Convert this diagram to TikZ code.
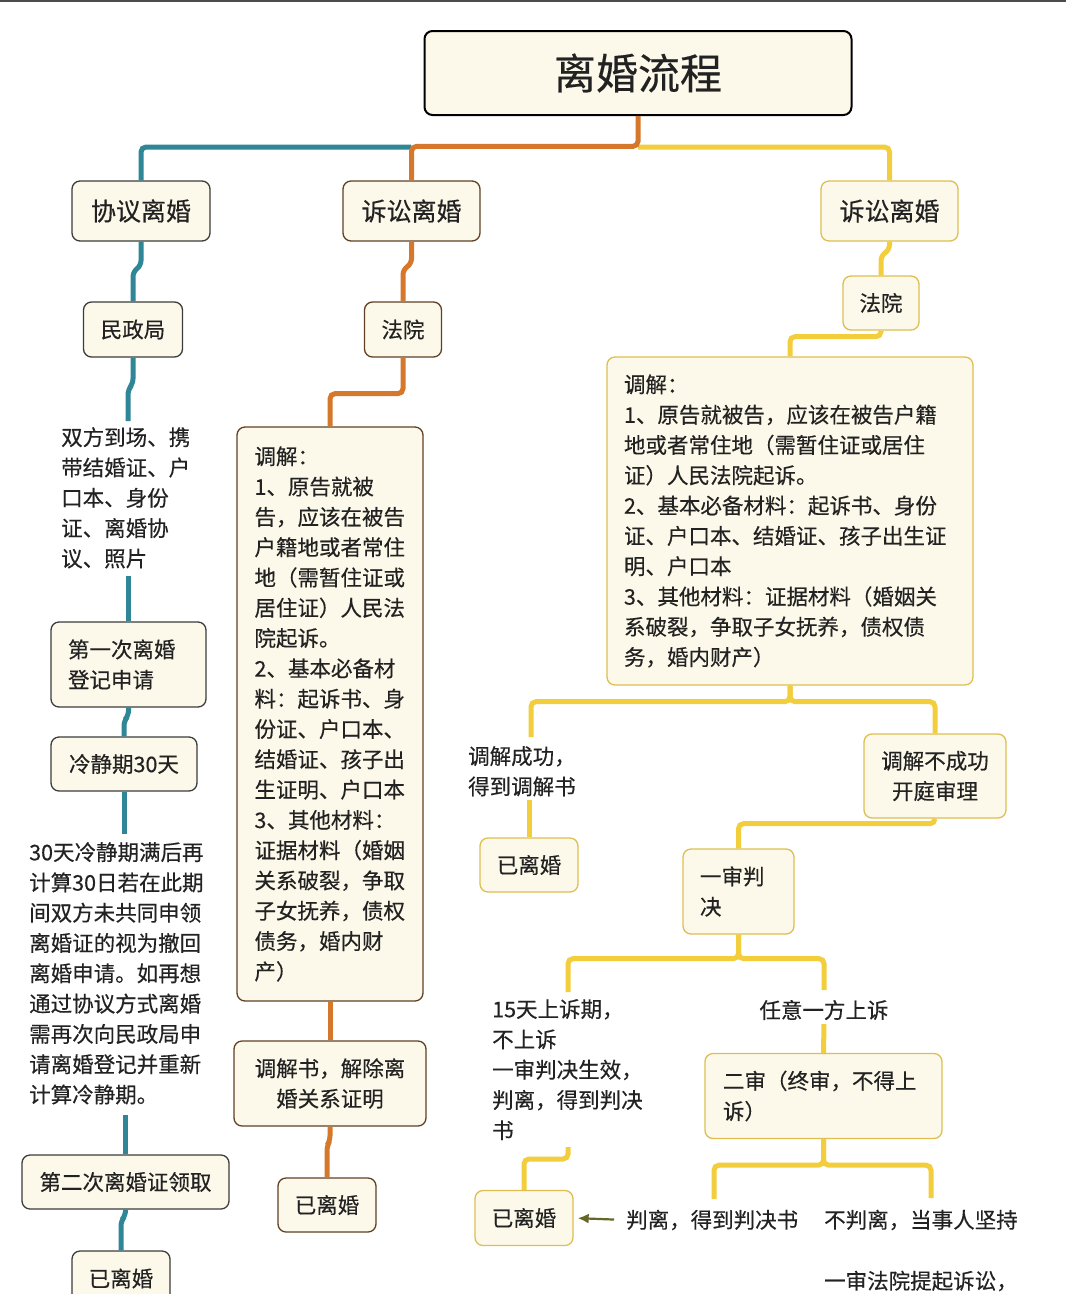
\documentclass[tikz,border=0pt]{standalone}
\usepackage{fontspec}
\setmainfont{Noto Sans CJK SC}[FakeBold=0.4]
\usetikzlibrary{arrows.meta}
\definecolor{tealline}{RGB}{46,134,150}
\definecolor{orangeline}{RGB}{214,120,44}
\definecolor{yellowline}{RGB}{242,205,60}
\definecolor{cream}{RGB}{252,249,234}
\definecolor{inkgray}{RGB}{34,34,34}
\definecolor{darkedge}{RGB}{60,60,60}
\definecolor{brownedge}{RGB}{96,64,36}
\definecolor{goldedge}{RGB}{222,190,80}
\definecolor{arrowolive}{RGB}{102,102,40}

\begin{document}
\begin{tikzpicture}[x=1pt,y=-1pt,
    box/.style={draw=#1,fill=cream,rounded corners=8pt,line width=1.3pt,inner sep=0pt,
      text=inkgray,font=\fontsize{21.5}{30.3}\selectfont},
    txt/.style={inner sep=0pt,text=inkgray,font=\fontsize{21.5}{30.3}\selectfont,align=left},
    tealc/.style={draw=tealline,line width=5pt,rounded corners=5pt},
    orangec/.style={draw=orangeline,line width=5pt,rounded corners=5pt},
    yellowc/.style={draw=yellowline,line width=5pt,rounded corners=5pt}]

    \useasboundingbox (0,0) rectangle (1066,1294);
    \clip (0,0) rectangle (1066,1294);
    \draw[gray!60!black,line width=2pt] (0,1) -- (1066,1);

% top
\node[box=black,line width=2pt,minimum width=427pt,minimum height=84pt,
  font=\fontsize{42}{50}\selectfont] (title) at (638,73) {离婚流程};
\node[box=darkedge,minimum width=138pt,minimum height=60pt,font=\fontsize{25}{30}\selectfont] (xy) at (141,211) {协议离婚};
\node[box=brownedge,minimum width=137pt,minimum height=60pt,font=\fontsize{25}{30}\selectfont] (ss1) at (411.5,211) {诉讼离婚};
\node[box=goldedge,minimum width=137pt,minimum height=60pt,font=\fontsize{25}{30}\selectfont] (ss2) at (889.5,211) {诉讼离婚};

% left column
\node[box=darkedge,minimum width=99pt,minimum height=55pt] (mzj) at (133,329.5) {民政局};
\node[txt,anchor=north west] (sf) at (61,427) {双方到场、携\\带结婚证、户\\口本、身份\\证、离婚协\\议、照片};
\node[box=darkedge,minimum width=155pt,minimum height=85pt,text width=121pt,inner xsep=17pt,align=left] (dj1) at (128.5,664.5) {第一次离婚\\登记申请};
\node[box=darkedge,minimum width=146pt,minimum height=54pt] (ljq) at (124,764) {冷静期30天};
\node[txt,anchor=north west] (lj) at (29,842) {30天冷静期满后再\\计算30日若在此期\\间双方未共同申领\\离婚证的视为撤回\\离婚申请。如再想\\通过协议方式离婚\\需再次向民政局申\\请离婚登记并重新\\计算冷静期。};
\node[box=darkedge,minimum width=207pt,minimum height=54pt] (dj2) at (125.5,1182) {第二次离婚证领取};
\node[box=darkedge,minimum width=98pt,minimum height=55pt] (yl1) at (121,1278.5) {已离婚};

% middle column
\node[box=brownedge,minimum width=77pt,minimum height=55pt] (fy1) at (403,329.5) {法院};
\node[box=brownedge,minimum height=574pt,text width=151pt,inner xsep=17.5pt,align=left] (tj1) at (330,714)
  {调解：\\1、原告就被\\告，应该在被告\\户籍地或者常住\\地（需暂住证或\\居住证）人民法\\院起诉。\\2、基本必备材\\料：起诉书、身\\份证、户口本、\\结婚证、孩子出\\生证明、户口本\\3、其他材料：\\证据材料（婚姻\\关系破裂，争取\\子女抚养，债权\\债务，婚内财\\产）};
\node[box=brownedge,minimum width=192pt,minimum height=85pt,align=center] (tjs) at (330,1083.5) {调解书，解除离\\婚关系证明};
\node[box=brownedge,minimum width=98pt,minimum height=54pt] (yl2) at (327,1205) {已离婚};

% right column
\node[box=goldedge,minimum width=76pt,minimum height=54pt] (fy2) at (881,303) {法院};
\node[box=goldedge,minimum height=328pt,text width=332pt,inner xsep=17pt,align=left] (tj2) at (790,521)
  {调解：\\1、原告就被告，应该在被告户籍\\地或者常住地（需暂住证或居住\\证）人民法院起诉。\\2、基本必备材料：起诉书、身份\\证、户口本、结婚证、孩子出生证\\明、户口本\\3、其他材料：证据材料（婚姻关\\系破裂，争取子女抚养，债权债\\务，婚内财产）};
\node[txt,anchor=north west] (cg) at (468,746) {调解成功，\\得到调解书};
\node[box=goldedge,minimum width=98pt,minimum height=54pt] (yl4) at (529,865) {已离婚};
\node[box=goldedge,minimum width=142pt,minimum height=84pt,align=center] (bcg) at (935,776) {调解不成功\\开庭审理};
\node[box=goldedge,minimum width=111pt,minimum height=85pt,text width=77pt,inner xsep=17pt,align=left] (ys1) at (738.5,891.5) {一审判\\决};
\node[txt,anchor=north west] (s15) at (492,999) {15天上诉期，\\不上诉\\一审判决生效，\\判离，得到判决\\书};
\node[txt] (ry) at (824,1010) {任意一方上诉};
\node[box=goldedge,minimum width=237pt,minimum height=85pt,text width=201pt,inner xsep=18pt,align=left] (es) at (823.5,1096) {二审（终审，不得上\\诉）};
\node[box=goldedge,minimum width=98pt,minimum height=55pt] (yl3) at (524,1218) {已离婚};
\node[txt,anchor=west] (pl) at (626,1220) {判离，得到判决书};
\node[txt,anchor=west] (bpl) at (824,1220) {不判离，当事人坚持};
\node[txt,anchor=west] (tq) at (824,1281) {一审法院提起诉讼，};

% free ends of the lines
\coordinate (jA) at (411,147);
\coordinate (jB) at (638,147);
\coordinate (sftop) at (128,421);
\coordinate (sfbot) at (128.5,576);
\coordinate (ljtop) at (124,834);
\coordinate (ljbot) at (125.5,1115);
\coordinate (cgtop) at (531,737);
\coordinate (cgbot) at (529,800);
\coordinate (s15top) at (568,992);
\coordinate (s15bot) at (568,1147);
\coordinate (rytop) at (824,990);
\coordinate (rybot) at (824,1024);
\coordinate (pltop) at (714,1199);
\coordinate (bpltop) at (931,1198);

\draw[tealc] (xy.north) |- (jA);
\draw[yellowc] (jB) -| (ss2.north);
\draw[orangec] (ss1.north) -- ++(0,-34) -| (title.south);

\draw[tealc] (xy.south) -- ++(0,24) -- ++(-8,6) -- (mzj.north);
\draw[tealc] (mzj.south) -- ++(0,26) -- ++(-5,6) -- (sftop);
\draw[tealc] (sfbot) -- (dj1.north);
\draw[tealc] (dj1.south) -- ++(0,8) -- ++(-4.5,5) -- (ljq.north);
\draw[tealc] (ljq.south) -- (ljtop);
\draw[tealc] (ljbot) -- (dj2.north);
\draw[tealc] (dj2.south) -- ++(0,6) -- ++(-4.5,5) -- (yl1.north);

\draw[orangec] (ss1.south) -- ++(0,22) -- ++(-8.5,6) -- (fy1.north);
\draw[orangec] (fy1.south) -- ++(0,36) -| (tj1.north);
\draw[orangec] (tj1.south) -- (tjs.north);
\draw[orangec] (tjs.south) -- ++(0,14) -- ++(-3,5) -- (yl2.north);

\draw[yellowc] (ss2.south) -- ++(0,8) -- ++(-8.5,6) -- (fy2.north);
\draw[yellowc] (fy2.south) -- ++(0,6) -| (tj2.north);
\draw[yellowc] (tj2.south) -- ++(0,16) -| (cgtop);
\draw[yellowc] (tj2.south) -- ++(0,16) -| (bcg.north);
\draw[yellowc] (cgbot) -- (yl4.north);
\draw[yellowc] (bcg.south) -- ++(0,5) -| (ys1.north);
\draw[yellowc] (ys1.south) -- ++(0,24) -| (s15top);
\draw[yellowc] (ys1.south) -- ++(0,24) -| (rytop);
\draw[yellowc] (rybot) -- (es.north);
\draw[yellowc] (es.south) -- ++(0,26) -| (pltop);
\draw[yellowc] (es.south) -- ++(0,26) -| (bpltop);
\draw[yellowc] (s15bot) -- ++(0,12) -| (yl3.north);

\draw[-{Latex[length=11pt,width=10pt]},arrowolive,line width=2.2pt,shorten <=12pt,shorten >=4pt] (pl.west) -- (yl3.east);

  \end{tikzpicture}
\end{document}
